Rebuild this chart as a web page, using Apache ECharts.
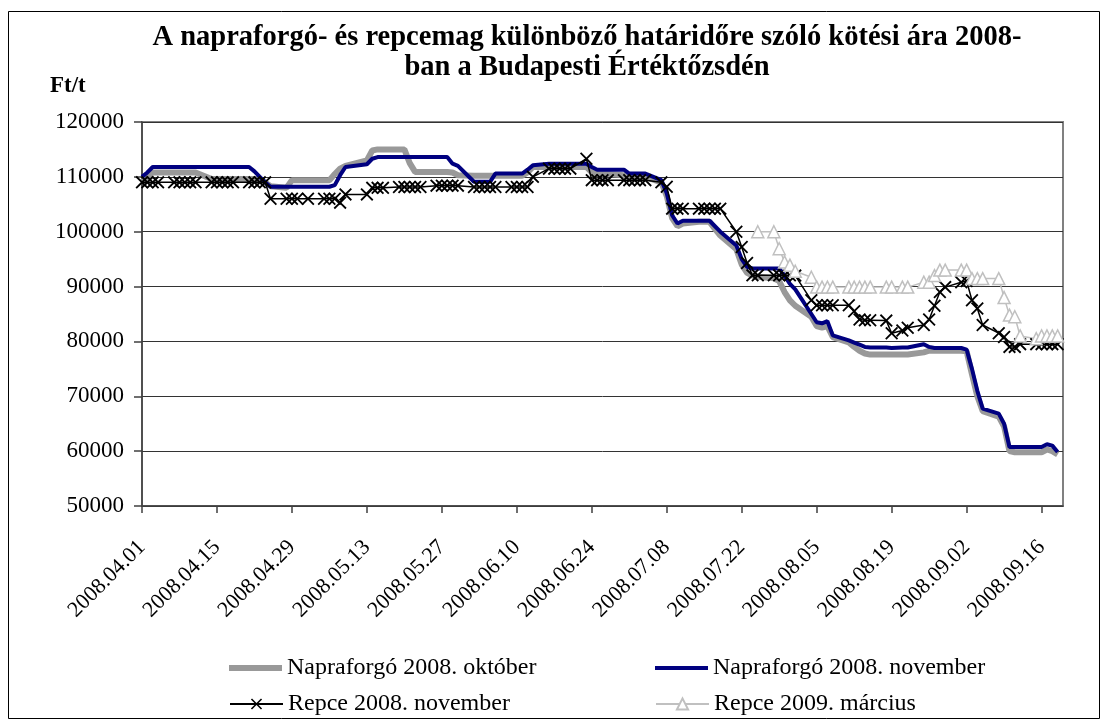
<!DOCTYPE html>
<html>
<head>
<meta charset="utf-8">
<script src="https://cdn.jsdelivr.net/npm/echarts@6/dist/echarts.min.js"></script>
<style>
  html, body { margin: 0; padding: 0; background: #fff; }
  #main { width: 1109px; height: 720px; }
</style>
</head>
<body>
<div id="main"></div>
<script>
//----------------------------------------= adatok =----------------------------------------
// kereskedési napok (2008)
var dates = [
  '04.01','04.02','04.03','04.04',
  '04.07','04.08','04.09','04.10','04.11',
  '04.14','04.15','04.16','04.17','04.18',
  '04.21','04.22','04.23','04.24','04.25',
  '04.28','04.29','04.30','05.02',
  '05.05','05.06','05.07','05.08','05.09',
  '05.13','05.14','05.15','05.16',
  '05.19','05.20','05.21','05.22','05.23',
  '05.26','05.27','05.28','05.29','05.30',
  '06.02','06.03','06.04','06.05','06.06',
  '06.09','06.10','06.11','06.12','06.13',
  '06.16','06.17','06.18','06.19','06.20',
  '06.23','06.24','06.25','06.26','06.27',
  '06.30','07.01','07.02','07.03','07.04',
  '07.07','07.08','07.09','07.10','07.11',
  '07.14','07.15','07.16','07.17','07.18',
  '07.21','07.22','07.23','07.24','07.25',
  '07.28','07.29','07.30','07.31','08.01',
  '08.04','08.05','08.06','08.07','08.08',
  '08.11','08.12','08.13','08.14','08.15',
  '08.18','08.19','08.21','08.22',
  '08.25','08.26','08.27','08.28','08.29',
  '09.01','09.02','09.03','09.04','09.05',
  '09.08','09.09','09.10','09.11','09.12',
  '09.15','09.16','09.17','09.18','09.19'
];

// Napraforgó 2008. október
var napOkt = [
  109000,110000,110800,110800,
  110800,110800,110800,110800,110800,
  109600,109600,109600,109600,109600,
  109600,109600,109600,109000,108300,
  108000,109400,109400,109400,
  109400,109400,110500,111500,112000,
  113000,114800,115000,115000,
  115000,115000,112500,110900,110900,
  110900,110900,110900,110800,110300,
  110200,110200,110200,110200,110200,
  110200,110200,110200,110800,111800,
  111800,111800,111800,111800,111800,
  111800,110800,110500,110500,110500,
  110300,110000,110000,110000,110000,
  109000,106500,102500,101000,101500,
  101800,101800,101800,100500,99300,
  96800,94000,92500,92000,91800,
  91500,91000,89000,87500,86500,
  84500,82800,82500,82800,80800,
  79800,79000,78300,77800,77600,
  77600,77600,77600,77600,
  78000,78300,78300,78300,78300,
  78300,78200,74000,70000,67300,
  66300,64500,60000,59800,59800,
  59800,59800,60300,60000,59400
];

// Napraforgó 2008. november
var napNov = [
  110000,110800,111800,111800,
  111800,111800,111800,111800,111800,
  111800,111800,111800,111800,111800,
  111800,111000,110000,109000,108200,
  108200,108200,108200,108200,
  108200,108200,108500,110300,111800,
  112300,113300,113600,113600,
  113600,113600,113600,113600,113600,
  113600,113600,113600,112400,112000,
  109100,109100,109100,109100,110600,
  110600,110600,110600,111300,112100,
  112400,112400,112400,112400,112400,
  112400,111800,111300,111300,111300,
  111300,110600,110600,110600,110600,
  109400,107000,103000,101500,102000,
  102000,102000,102000,101000,100000,
  97500,95000,93600,93300,93300,
  93300,93300,92000,90500,89500,
  85000,83500,83300,83700,81100,
  80200,79800,79400,79000,78900,
  78900,78800,78900,78900,
  79500,79000,78800,78800,78800,
  78800,78500,75000,71000,67750,
  66850,65000,60750,60750,60750,
  60750,60750,61250,61000,59850
];

// Repce 2008. november
var repNov = [
  109000,109000,109000,109000,
  109000,109000,109000,109000,109000,
  109000,109000,109000,109000,109000,
  109000,109000,109000,109000,106000,
  106000,106000,106000,106000,
  106000,106000,106000,105300,106800,
  106800,108000,108000,108000,
  108150,108150,108150,108150,108150,
  108400,108400,108400,108400,108400,
  108150,108150,108150,108150,108150,
  108150,108150,108150,108150,110000,
  111500,111500,111500,111500,111500,
  113300,109400,109400,109400,109400,
  109400,109400,109400,109400,109400,
  109000,108200,104200,104200,104200,
  104200,104200,104200,104200,104200,
  100000,97200,94300,92050,92050,
  92050,92050,92050,92050,92000,
  87500,86600,86600,86600,86600,
  86600,85500,84000,83850,83850,
  83800,81500,82000,82500,
  83000,84000,86500,89000,89900,
  90800,91000,87500,86000,83000,
  81500,80800,79000,79000,79500,
  79500,79500,79500,79500,79500
];

// Repce 2009. március (július végétől)
var repMar = [
  null,null,null,null,
  null,null,null,null,null,
  null,null,null,null,null,
  null,null,null,null,null,
  null,null,null,null,
  null,null,null,null,null,
  null,null,null,null,
  null,null,null,null,null,
  null,null,null,null,null,
  null,null,null,null,null,
  null,null,null,null,null,
  null,null,null,null,null,
  null,null,null,null,null,
  null,null,null,null,null,
  null,null,null,null,null,
  null,null,null,null,null,
  null,null,null,null,100000,
  100000,96900,94500,93900,92800,
  91700,89900,89900,89900,89900,
  89900,89900,89900,89900,89900,
  89900,89900,89900,89900,
  90800,90800,92000,93000,93000,
  93000,93000,91450,91450,91450,
  91450,88000,84800,84500,81000,
  80500,81000,81000,81000,81000
];

var seriesNames = ['Napraforgó 2008. október', 'Napraforgó 2008. november', 'Repce 2008. november', 'Repce 2009. március'];
var xTickDays = [0, 14, 28, 42, 56, 70, 84, 98, 112, 126, 140, 154, 168];
var xMaxDay = 172;
var yMin = 50000, yMax = 120000, yStep = 10000;

//----------------------------------------= segédfüggvények =----------------------------------------
var DAY = 86400000;
var START = Date.UTC(2008, 3, 1);

function dayIndex(s) {
  var p = s.split('.');
  return Math.round((Date.UTC(2008, +p[0] - 1, +p[1]) - START) / DAY);
}
function pad(n) { return n < 10 ? '0' + n : '' + n; }
function dayLabel(v) {
  var d = new Date(START + v * DAY);
  return '2008.' + pad(d.getUTCMonth() + 1) + '.' + pad(d.getUTCDate());
}
function pairs(arr) {
  return dates.map(function (s, i) {
    return [dayIndex(s), arr[i] == null ? '-' : arr[i]];
  });
}

var FONT = '"Liberation Serif", "Times New Roman", serif';
var crossPath = 'path://M0,1L1,0L5,4L9,0L10,1L6,5L10,9L9,10L5,6L1,10L0,9L4,5Z';

//----------------------------------------= diagram =----------------------------------------
var chart = echarts.init(document.getElementById('main'), null, { renderer: 'canvas' });

var legendBase = {
  orient: 'horizontal',
  padding: 0,
  itemWidth: 53,
  itemHeight: 14,
  itemGap: 0,
  textStyle: { fontFamily: FONT, fontSize: 24, color: '#000' }
};

var option = {
  animation: false,
  backgroundColor: '#fff',
  title: {
    text: 'A napraforgó- és repcemag különböző határidőre szóló kötési ára 2008-\nban a Budapesti Értéktőzsdén',
    left: 582,
    top: 18,
    textAlign: 'center',
    textStyle: { fontFamily: FONT, fontSize: 28.5, fontWeight: 'bold', color: '#000', lineHeight: 30 }
  },
  graphic: [
    { type: 'rect', shape: { x: 8.5, y: 11.5, width: 1091, height: 707 },
      style: { fill: null, stroke: '#000', lineWidth: 1 }, silent: true },
    { type: 'text', left: 50, top: 75,
      style: { text: 'Ft/t', font: 'bold 23px ' + FONT, fill: '#000' } }
  ],
  legend: [
    Object.assign({}, legendBase, { data: [{ name: seriesNames[0], icon: 'rect' }], itemHeight: 6, left: 229, top: 656 }),
    Object.assign({}, legendBase, { data: [{ name: seriesNames[1], icon: 'rect' }], itemHeight: 4, left: 655, top: 656 }),
    Object.assign({}, legendBase, { data: [seriesNames[2]], left: 229, top: 692 }),
    Object.assign({}, legendBase, { data: [seriesNames[3]], left: 655, top: 692 })
  ],
  grid: {
    left: 142, top: 122, right: 46, bottom: 214,
    show: true, borderColor: '#808080', borderWidth: 2, backgroundColor: '#fff'
  },
  xAxis: {
    type: 'value',
    min: 0, max: xMaxDay, interval: 14,
    axisLine: { show: true, lineStyle: { color: '#404040', width: 1.5 } },
    axisTick: { show: true, inside: false, length: 7, customValues: xTickDays,
      lineStyle: { color: '#404040', width: 1.5 } },
    axisLabel: {
      customValues: xTickDays,
      rotate: 45, margin: 38,
      fontFamily: FONT, fontSize: 22, color: '#000',
      formatter: function (v) { return dayLabel(v); }
    },
    splitLine: { show: false }
  },
  yAxis: {
    type: 'value',
    min: yMin, max: yMax, interval: yStep,
    axisLine: { show: true, lineStyle: { color: '#404040', width: 1.5 } },
    axisTick: { show: true, inside: false, length: 8, lineStyle: { color: '#404040', width: 1.5 } },
    axisLabel: { margin: 18, fontFamily: FONT, fontSize: 23, color: '#000',
      formatter: function (v) { return String(v); } },
    splitLine: { show: true, lineStyle: { color: '#333', width: 1 } }
  },
  series: [
    {
      name: seriesNames[0], type: 'line', data: pairs(napOkt),
      showSymbol: false, symbol: 'none',
      lineStyle: { color: '#999999', width: 6 }, itemStyle: { color: '#999999' }
    },
    {
      name: seriesNames[1], type: 'line', data: pairs(napNov),
      showSymbol: false, symbol: 'none',
      lineStyle: { color: '#000080', width: 4 }, itemStyle: { color: '#000080' }
    },
    {
      name: seriesNames[2], type: 'line', data: pairs(repNov),
      symbol: crossPath, symbolSize: 13, showAllSymbol: true,
      lineStyle: { color: '#000', width: 1.5 }, itemStyle: { color: '#000' }
    },
    {
      name: seriesNames[3], type: 'line', data: pairs(repMar),
      symbol: 'triangle', symbolSize: 12, showAllSymbol: true, connectNulls: false,
      lineStyle: { color: '#c0c0c0', width: 1.5 },
      itemStyle: { color: '#fff', borderColor: '#c0c0c0', borderWidth: 1.5 }
    }
  ]
};

chart.setOption(option);
</script>
</body>
</html>
